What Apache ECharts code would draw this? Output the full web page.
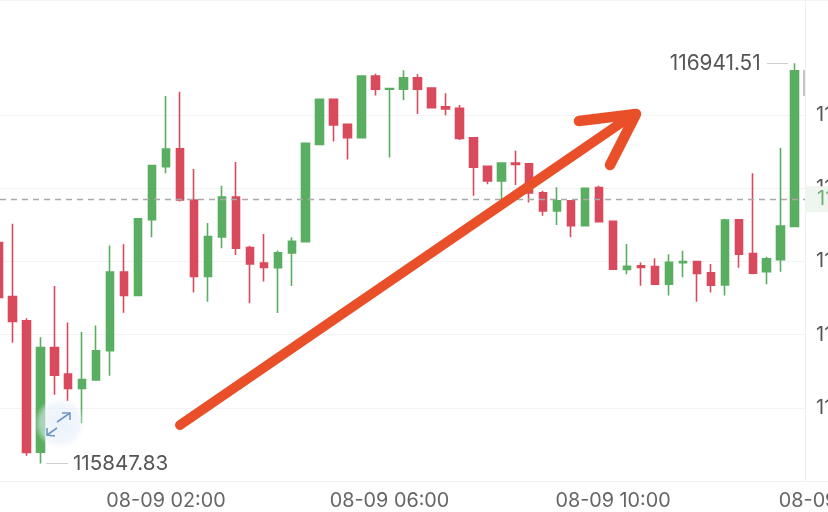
<!DOCTYPE html>
<html><head><meta charset="utf-8">
<style>html,body{margin:0;padding:0;background:#fff}#c{width:828px;height:512px}</style>
<script src="https://cdn.jsdelivr.net/npm/echarts@6/dist/echarts.min.js"></script>
</head><body><div id="c"></div>
<script>
const opens=[116452,116304,116238,115879,116165,116092,116053,116076,116156,116371,116307,116514,116659,116708,116568,116359,116467,116576,116438,116396,116383,116423,116454,116720,116843,116775,116738,116907,116871,116871,116902,116874,116823,116819,116738,116660,116620,116669,116667,116588,116538,116566,116498,116602,116510,116378,116388,116386,116338,116397,116400,116369,116336,116514,116422,116372,116405,116496];
const closes=[116302,116236,115878,116165,116089,116053,116077,116156,116371,116307,116517,116662,116707,116568,116359,116468,116576,116436,116393,116384,116424,116455,116723,116843,116773,116738,116907,116871,116873,116902,116871,116820,116817,116736,116658,116620,116669,116665,116587,116538,116566,116498,116600,116509,116379,116387,116384,116338,116398,116400,116367,116335,116513,116420,116368,116407,116497,116921];
const lows=[116295,116178,115869,115847.83,116036,116019,115958,116076,116088,116260,116307,116466,116641,116564,116315,116290,116436,116418,116286,116345,116259,116333,116454,116720,116728,116679,116738,116854,116684,116841,116803,116820,116800,116732,116580,116611,116564,116609,116561,116525,116500,116466,116498,116509,116379,116365,116334,116338,116307,116357,116290,116315,116307,116383,116365,116338,116372,116496];
const highs=[116459,116503,116245,116193,116333,116233,116207,116225,116444,116447,116517,116662,116852,116864,116653,116505,116607,116672,116443,116475,116430,116466,116723,116843,116843,116775,116907,116913,116873,116923,116912,116874,116860,116828,116738,116660,116669,116703,116667,116593,116603,116568,116600,116607,116510,116448,116397,116409,116420,116429,116400,116393,116517,116514,116641,116413,116711,116941.51];
const timeLabels=['08-08 23:00','08-08 23:15','08-08 23:30','08-08 23:45','08-09 00:00','08-09 00:15','08-09 00:30','08-09 00:45','08-09 01:00','08-09 01:15','08-09 01:30','08-09 01:45','08-09 02:00','08-09 02:15','08-09 02:30','08-09 02:45','08-09 03:00','08-09 03:15','08-09 03:30','08-09 03:45','08-09 04:00','08-09 04:15','08-09 04:30','08-09 04:45','08-09 05:00','08-09 05:15','08-09 05:30','08-09 05:45','08-09 06:00','08-09 06:15','08-09 06:30','08-09 06:45','08-09 07:00','08-09 07:15','08-09 07:30','08-09 07:45','08-09 08:00','08-09 08:15','08-09 08:30','08-09 08:45','08-09 09:00','08-09 09:15','08-09 09:30','08-09 09:45','08-09 10:00','08-09 10:15','08-09 10:30','08-09 10:45','08-09 11:00','08-09 11:15','08-09 11:30','08-09 11:45','08-09 12:00','08-09 12:15','08-09 12:30','08-09 12:45','08-09 13:00','08-09 13:15','08-09 13:30','08-09 13:45','08-09 14:00'];
const currentPrice=116570;
const currentLabel='116570.42';
const highLabel='116941.51', lowLabel='115847.83';
const arrowShaft=[[180,425],[634,114]];
const arrowHead=[[579,121],[636,114],[610,165]];

const FONT='Inter';
const STEP=15*60000, T0=Date.UTC(2025,7,8,23,0);
const tAt=i=>T0+i*STEP;
const candles=opens.map((o,i)=>[tAt(i),o,closes[i],lows[i],highs[i]]);
const UP='#5aae62', DOWN='#d84a5c';
const chart=echarts.init(document.getElementById('c'),null,{renderer:'canvas'});
chart.setOption({
 animation:false,backgroundColor:'#fff',
 grid:[{left:0,top:0,width:805,height:481,outerBoundsMode:'none',containLabel:false},{left:-8.6,top:0,width:852.2,height:481,outerBoundsMode:'none',containLabel:false}],
 xAxis:[
  {type:'time',gridIndex:0,min:tAt(0.1145),max:tAt(57.74),axisLine:{show:false},axisTick:{show:false},axisLabel:{show:false},splitLine:{show:false}},
  {type:'category',gridIndex:1,data:timeLabels,axisLine:{show:true,lineStyle:{color:'#f0f0f0',width:1}},axisTick:{show:false},splitLine:{show:false},
   axisLabel:{color:'#666',fontFamily:FONT,fontSize:19.8,margin:10,hideOverlap:false,interval:(i)=>i%16===12,formatter:v=>v}}
 ],
 yAxis:[
  {type:'value',gridIndex:0,position:'right',min:115800,max:117114.7,interval:200,scale:true,
   axisLine:{show:true,lineStyle:{color:'#f0f0f0',width:1}},axisTick:{show:false},
   axisLabel:{color:'#555',fontFamily:FONT,fontSize:20,margin:11,padding:[0,0,6,0],showMinLabel:false,showMaxLabel:false,formatter:v=>v===117000?'':String(v)},
   splitLine:{show:true,lineStyle:{color:['#f3f3f3','#f3f3f3','#f3f3f3','#f3f3f3','#f3f3f3','#f3f3f3','rgba(0,0,0,0)'],width:1}}},
  {type:'value',gridIndex:1,show:false,min:0,max:1}
 ],
 series:[{
  type:'candlestick',xAxisIndex:0,yAxisIndex:0,data:candles,encode:{x:0,y:[1,2,3,4]},barWidth:8,
  itemStyle:{color:UP,color0:DOWN,borderColor:UP,borderColor0:DOWN,borderWidth:1.6},
  markLine:{silent:true,symbol:'none',animation:false,precision:2,
   data:[
    {yAxis:currentPrice,lineStyle:{color:'#a9a9a9',type:[6,5],width:1.3},
     label:{show:true,position:'end',distance:0,formatter:currentLabel,color:'#6fb07a',fontFamily:FONT,fontSize:20,backgroundColor:'#eff6f0',padding:[3,10,3,12]}},
    [{coord:[tAt(56.52),highs[57]],lineStyle:{color:'#d0d0d0',width:1,type:'solid'},
      label:{show:true,position:'end',distance:6,formatter:highLabel,color:'#555',fontFamily:FONT,fontSize:20.8,padding:[0,0,6,0]}},
     {coord:[tAt(55),highs[57]]}],
    [{coord:[tAt(3.41),lows[3]],lineStyle:{color:'#d0d0d0',width:1,type:'solid'},
      label:{show:true,position:'end',distance:5,formatter:lowLabel,color:'#555',fontFamily:FONT,fontSize:20.6,padding:[0,0,4,0]}},
     {coord:[tAt(4.98),lows[3]]}]
   ]}
 }],
 graphic:[
  {type:'line',z:1,shape:{x1:0,y1:0.5,x2:828,y2:0.5},style:{stroke:'#f3f3f3',lineWidth:1}},
  {type:'circle',z:50,shape:{cx:60,cy:423,r:26},style:{fill:{type:'radial',x:.5,y:.5,r:.5,colorStops:[{offset:0,color:'rgba(226,236,248,.7)'},{offset:.75,color:'rgba(232,240,250,.55)'},{offset:1,color:'rgba(240,245,252,0)'}]}}},
  {type:'polyline',z:51,shape:{points:[[57,422],[70,413]]},style:{stroke:'#6e97c2',lineWidth:1.6,fill:null}},
  {type:'polyline',z:51,shape:{points:[[62,413],[70,413],[70,420]]},style:{stroke:'#6e97c2',lineWidth:1.6,fill:null}},
  {type:'polyline',z:51,shape:{points:[[47,435],[57,428]]},style:{stroke:'#6e97c2',lineWidth:1.6,fill:null}},
  {type:'polyline',z:51,shape:{points:[[47,428],[47,435],[55,436]]},style:{stroke:'#6e97c2',lineWidth:1.6,fill:null}},
  {type:'line',z:40,shape:{x1:804,y1:70,x2:804,y2:96},style:{stroke:'#8c8c8c',lineWidth:1}},
  {type:'polyline',z:60,shape:{points:arrowShaft},style:{stroke:'#e9502a',lineWidth:10,lineCap:'round',fill:null}},
  {type:'polyline',z:60,shape:{points:arrowHead},style:{stroke:'#e9502a',lineWidth:10.5,lineCap:'round',lineJoin:'round',fill:null}}
 ]
});
</script></body></html>
